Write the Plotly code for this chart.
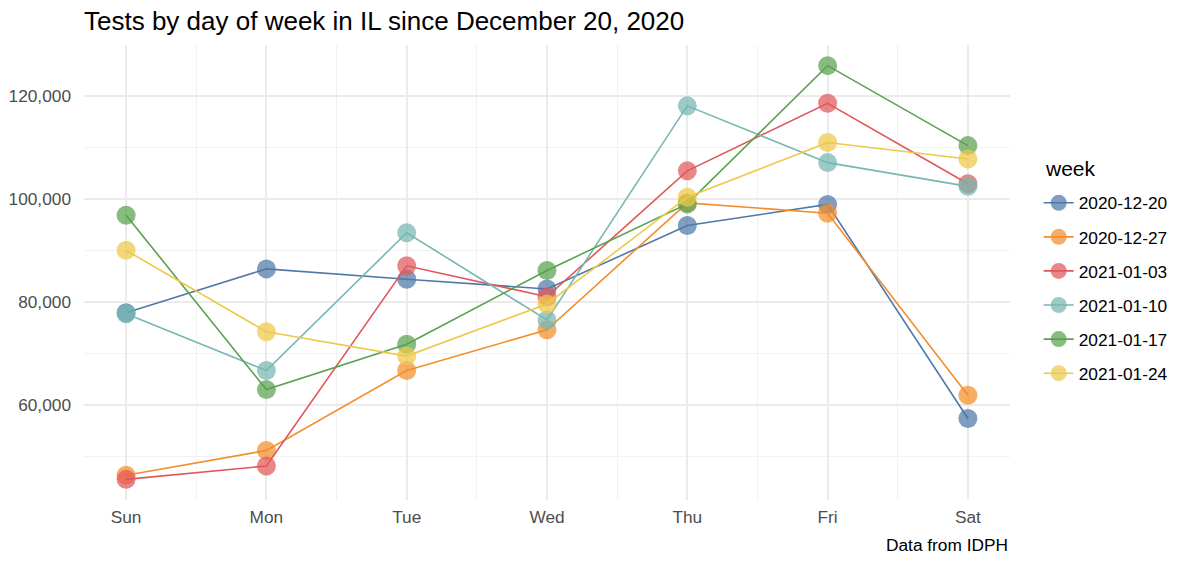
import plotly.graph_objects as go

days = ["Sun", "Mon", "Tue", "Wed", "Thu", "Fri", "Sat"]
weeks = ["2020-12-20", "2020-12-27", "2021-01-03", "2021-01-10", "2021-01-17", "2021-01-24"]
w_2020_12_20 = [77900, 86400, 84400, 82500, 94800, 98900, 57400]
w_2020_12_27 = [46400, 51200, 66700, 74600, 99200, 97200, 61900]
w_2021_01_03 = [45600, 48200, 87000, 81000, 105400, 118500, 102900]
w_2021_01_10 = [77700, 66700, 93400, 76500, 118000, 107000, 102400]
w_2021_01_17 = [96800, 63000, 71800, 86100, 99000, 125800, 110300]
w_2021_01_24 = [90000, 74200, 69500, 79600, 100300, 110900, 107700]
series = [w_2020_12_20, w_2020_12_27, w_2021_01_03, w_2021_01_10, w_2021_01_17, w_2021_01_24]
colors = ["#4E79A7", "#F28E2B", "#E15759", "#76B7B2", "#59A14F", "#EDC948"]

y_major = [60000, 80000, 100000, 120000]
y_minor = [50000, 70000, 90000, 110000, 130000]

xpos = list(range(1, len(days) + 1))
x_minor = [i + 0.5 for i in xpos[:-1]]

fig = go.Figure()
for name, vals, col in zip(weeks, series, colors):
    fig.add_trace(go.Scatter(
        x=xpos, y=vals, name=name, mode="lines+markers",
        line=dict(color=col, width=1.6),
        marker=dict(color=col, size=19, opacity=0.72, line=dict(width=0)),
        legendgroup=name,
    ))

font = "Liberation Sans, Arial, sans-serif"
W, H, L, R, T, B = 1200, 565, 84, 190, 45, 65
plot_w = W - L - R
plot_h = H - T - B
fig.update_layout(
    width=W, height=H,
    margin=dict(l=L, r=R, t=T, b=B, autoexpand=False),
    paper_bgcolor="white", plot_bgcolor="white",
    font=dict(family=font, size=17, color="#4D4D4D"),
    title=dict(text="Tests by day of week in IL since December 20, 2020",
               x=L / W, xanchor="left", y=1 - 21 / H, yanchor="middle",
               font=dict(size=26, color="black", family=font)),
    legend=dict(font=dict(size=17.3, color="black"),
                x=1.031, xanchor="left", y=(H - B - 185) / plot_h, yanchor="top",
                tracegroupgap=8.6, itemwidth=30),
    showlegend=True,
    annotations=[
        dict(text="Data from IDPH", x=1, xref="paper", xanchor="right",
             y=-45 / plot_h, yref="paper", yanchor="middle", showarrow=False,
             font=dict(size=17.3, color="black")),
        dict(text="week", x=(1043 - L) / plot_w, xref="paper", xanchor="left",
             y=(H - B - 168) / plot_h, yref="paper", yanchor="middle", showarrow=False,
             font=dict(size=21, color="black")),
    ],
)
fig.update_xaxes(
    range=[0.7, 7.3], tickvals=xpos, ticktext=days, showgrid=True,
    gridcolor="#EBEBEB", gridwidth=1.6, zeroline=False, showline=False,
    ticks="", tickfont=dict(size=17.3, color="#4D4D4D"), ticklabelstandoff=5,
    minor=dict(tickvals=x_minor, showgrid=True, gridcolor="#F2F2F2", gridwidth=0.9),
)
fig.update_yaxes(
    range=[41600, 129800], tickvals=y_major, tickformat=",", showgrid=True,
    gridcolor="#EBEBEB", gridwidth=1.6, zeroline=False, showline=False,
    ticks="", tickfont=dict(size=17.3, color="#4D4D4D"), ticklabelstandoff=12,
    minor=dict(tickvals=y_minor, showgrid=True, gridcolor="#F2F2F2", gridwidth=0.9),
)

fig.write_html("out.html", config={"displayModeBar": False},
               post_script="document.body.style.margin='0';")
